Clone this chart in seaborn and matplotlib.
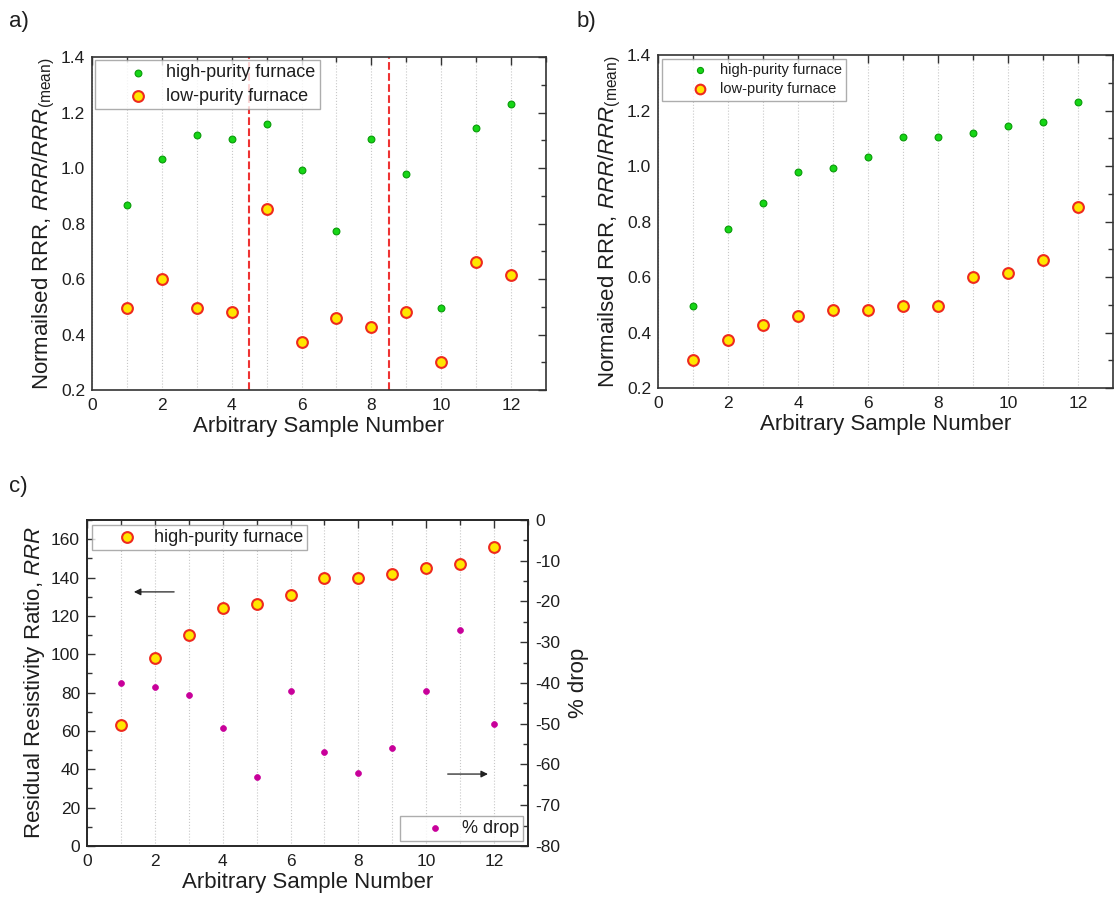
import numpy as np
import matplotlib
matplotlib.use("Agg")
import matplotlib.pyplot as plt
from matplotlib.ticker import MultipleLocator, FormatStrFormatter
import seaborn as sns

sns.set_theme(style="white")
plt.rcParams['font.family'] = ['Liberation Sans', 'DejaVu Sans']
plt.rcParams['mathtext.fontset'] = 'custom'
plt.rcParams['mathtext.rm'] = 'Liberation Sans'
plt.rcParams['mathtext.it'] = 'Liberation Sans:italic'
plt.rcParams['axes.unicode_minus'] = False

# data
samples = list(range(1, 13))

# a) normalised RRR in arbitrary sample order
high_a = [0.868, 1.033, 1.120, 1.105, 1.160, 0.993, 0.773, 1.105, 0.978, 0.497, 1.143, 1.232]
low_a = [0.497, 0.600, 0.497, 0.482, 0.852, 0.372, 0.458, 0.427, 0.482, 0.300, 0.663, 0.615]
separators = [4.5, 8.5]

# b) same values, ranked
high_b = [0.497, 0.773, 0.868, 0.978, 0.993, 1.033, 1.105, 1.105, 1.120, 1.143, 1.160, 1.232]
low_b = [0.300, 0.372, 0.427, 0.458, 0.482, 0.482, 0.497, 0.497, 0.600, 0.615, 0.663, 0.852]

# c) absolute RRR and % drop
rrr_high = [63, 98, 110, 124, 126, 131, 140, 140, 142, 145, 147, 156]
pct_drop = [-40, -41, -43, -51, -63, -42, -57, -62, -56, -42, -27, -50]

GREEN, GREEN_EDGE = '#16d616', '#0a9a0a'
YELLOW, RED = '#ffe600', '#ee2a1e'
MAGENTA = '#c8009a'
TXT = '#1e1e1e'

fig = plt.figure(figsize=(11.14, 8.97), dpi=100)
ax_a = fig.add_axes([0.0826, 0.5652, 0.4075, 0.3712])
ax_b = fig.add_axes([0.5907, 0.5674, 0.4084, 0.3712])
ax_c = fig.add_axes([0.0781, 0.0569, 0.3959, 0.3634])


def style_axis(ax, ymaj, ymin, right=True):
    ax.set_xlim(0, 13)
    ax.xaxis.set_major_locator(MultipleLocator(2))
    ax.xaxis.set_minor_locator(MultipleLocator(1))
    ax.yaxis.set_major_locator(MultipleLocator(ymaj))
    ax.yaxis.set_minor_locator(MultipleLocator(ymin))
    ax.tick_params(which='both', direction='in', top=True, right=right,
                   labelsize=12.5, colors='#333333', labelcolor=TXT, pad=5)
    ax.tick_params(axis='x', pad=6)
    ax.tick_params(which='major', length=6, width=1)
    ax.tick_params(which='minor', length=3.5, width=1)
    ax.grid(which='both', axis='x', linestyle=':', color='#c8c8c8', linewidth=0.8)
    ax.grid(False, axis='y')
    ax.set_axisbelow(True)
    for sp in ax.spines.values():
        sp.set_color('#333333')
        sp.set_linewidth(1.2)
    ax.set_xlabel("Arbitrary Sample Number", fontsize=16, color=TXT, labelpad=2)


def pair_scatter(ax, high, low):
    sns.scatterplot(x=samples, y=high, ax=ax, color=GREEN, edgecolor=GREEN_EDGE,
                    s=24, linewidth=0.8, label='high-purity furnace', zorder=3)
    sns.scatterplot(x=samples, y=low, ax=ax, color=YELLOW, edgecolor=RED,
                    s=60, linewidth=1.5, label='low-purity furnace', zorder=3)


def boxed_legend(ax, **kw):
    leg = ax.legend(frameon=True, fancybox=False, edgecolor='#999999',
                    labelspacing=0.35, **kw)
    leg.get_frame().set_linewidth(1.0)
    for t in leg.get_texts():
        t.set_color(TXT)
    return leg


# panel a
pair_scatter(ax_a, high_a, low_a)
for xs in separators:
    ax_a.axvline(xs, color='#ee3333', linestyle='--', linewidth=1.5, zorder=2)
style_axis(ax_a, 0.2, 0.1)
ax_a.set_ylim(0.2, 1.4)
ax_a.yaxis.set_major_formatter(FormatStrFormatter('%.1f'))
ax_a.set_ylabel(r"Normailsed RRR, $\it{RRR/RRR}$$_{\mathrm{(mean)}}$",
                fontsize=16, color=TXT, labelpad=3)
boxed_legend(ax_a, loc='upper left', fontsize=13, borderaxespad=0.15,
             borderpad=0.25, handlelength=4.3, handletextpad=-0.6)

# panel b
pair_scatter(ax_b, high_b, low_b)
style_axis(ax_b, 0.2, 0.1)
ax_b.set_ylim(0.2, 1.4)
ax_b.yaxis.set_major_formatter(FormatStrFormatter('%.1f'))
ax_b.set_ylabel(r"Normailsed RRR, $\it{RRR/RRR}_{\mathrm{(mean)}}$",
                fontsize=16, color=TXT, labelpad=3)
boxed_legend(ax_b, loc='upper left', fontsize=10.5, borderaxespad=0.25,
             borderpad=0.3, handlelength=4.6, handletextpad=-0.9, markerscale=0.9)

# panel c
sns.scatterplot(x=samples, y=rrr_high, ax=ax_c, color=YELLOW, edgecolor=RED,
                s=60, linewidth=1.5, label='high-purity furnace', zorder=3)
style_axis(ax_c, 20, 10, right=False)
ax_c.set_ylim(0, 170)
ax_c.set_ylabel(r"Residual Resistivity Ratio, $\it{RRR}$", fontsize=16, color=TXT, labelpad=3)
boxed_legend(ax_c, loc='upper left', fontsize=13, borderaxespad=0.3,
             borderpad=0.2, handlelength=3.4, handletextpad=-0.2)

ax_r = ax_c.twinx()
sns.scatterplot(x=samples, y=pct_drop, ax=ax_r, color=MAGENTA, edgecolor=MAGENTA,
                s=18, linewidth=0.5, label='% drop', zorder=3)
ax_r.set_ylim(-80, 0)
ax_r.yaxis.set_major_locator(MultipleLocator(10))
ax_r.yaxis.set_minor_locator(MultipleLocator(5))
ax_r.tick_params(which='both', direction='in', labelsize=12.5, colors='#333333',
                 labelcolor=TXT, pad=5)
ax_r.tick_params(which='major', length=6, width=1)
ax_r.tick_params(which='minor', length=3.5, width=1)
ax_r.grid(False)
ax_r.set_ylabel("% drop", fontsize=16, color=TXT, rotation=90, labelpad=6)
boxed_legend(ax_r, loc='lower right', fontsize=13, borderaxespad=0.3,
             borderpad=0.2, handlelength=3.4, handletextpad=-0.2)

# arrows pointing to the relevant axis
ax_c.annotate('', xy=(1.3, 132.5), xytext=(2.65, 132.5),
              arrowprops=dict(arrowstyle='-|>', color='#222222', lw=0.9, mutation_scale=10))
ax_c.annotate('', xy=(11.9, 37.5), xytext=(10.55, 37.5),
              arrowprops=dict(arrowstyle='-|>', color='#222222', lw=0.9, mutation_scale=10))

# panel letters
fig.text(0.008, 0.988, 'a)', fontsize=16, color=TXT, va='top', ha='left')
fig.text(0.518, 0.988, 'b)', fontsize=16, color=TXT, va='top', ha='left')
fig.text(0.008, 0.469, 'c)', fontsize=16, color=TXT, va='top', ha='left')

fig.savefig('out.png', dpi=100)
